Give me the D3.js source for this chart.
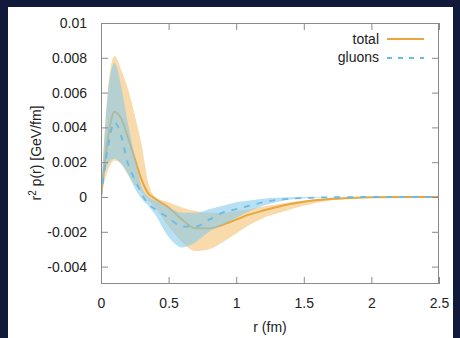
<!DOCTYPE html>
<html>
<head>
<meta charset="utf-8">
<script src="https://cdn.jsdelivr.net/npm/d3@7"></script>
<style>
  html, body { margin: 0; padding: 0; background: #111a3b; }
  svg { display: block; }
  text { font-family: "Liberation Sans", Arial, sans-serif; fill: #222; }
</style>
</head>
<body>
<svg id="chart" width="460" height="338"></svg>
<script>
// radial distance grid (fm)
const r = [0, 0.05, 0.1, 0.15, 0.2, 0.25, 0.3, 0.35, 0.4, 0.5, 0.6, 0.7, 0.8, 0.9, 1.0,
           1.1, 1.2, 1.3, 1.4, 1.5, 1.6, 1.8, 2.0, 2.25, 2.5];

// r^2 p(r) for the total pressure: central value and uncertainty band
const totalMid = [0, 0.0033, 0.0049, 0.0045, 0.0034, 0.0022, 0.0010, 0.0002, -0.0001, -0.0006,
  -0.0013, -0.0018, -0.0018, -0.0016, -0.0013, -0.0010, -0.00078, -0.00058, -0.0004, -0.00027,
  -0.00017, -0.00007, -0.00002, 0, 0];
const totalHi = [0, 0.0060, 0.0081, 0.0073, 0.0062, 0.0047, 0.0030, 0.0008, 0.0000, -0.0003,
  -0.0006, -0.0008, -0.0009, -0.0009, -0.0008, -0.0007, -0.00055, -0.00042, -0.0003, -0.0002,
  -0.00013, -0.00004, 0, 0, 0];
const totalLo = [0, 0.0015, 0.0021, 0.0019, 0.0013, 0.0007, 0.0003, -0.0002, -0.0006, -0.0017,
  -0.0026, -0.0031, -0.0030, -0.0026, -0.0021, -0.0016, -0.0012, -0.00095, -0.00072, -0.0005,
  -0.00033, -0.00012, -0.00003, 0, 0];

// gluon contribution: central value and uncertainty band
const gluonMid = [0, 0.0028, 0.0043, 0.0035, 0.0019, 0.0010, 0.0002, -0.0004, -0.0007, -0.0012,
  -0.0017, -0.0017, -0.0013, -0.0009, -0.0007, -0.0005, -0.0003, -0.00017, -0.0001, -0.00006,
  -0.00003, -0.00001, 0, 0, 0];
const gluonHi = [0, 0.0058, 0.0077, 0.0063, 0.0042, 0.0023, 0.0006, 0.0000, -0.0002, -0.0006,
  -0.0009, -0.0009, -0.0007, -0.0005, -0.0003, -0.0002, -0.0001, -0.00005, -0.00002, 0,
  0, 0, 0, 0, 0];
const gluonLo = [0, 0.0019, 0.0022, 0.0019, 0.0013, 0.0005, -0.0001, -0.0005, -0.0010, -0.0023,
  -0.0029, -0.0026, -0.0020, -0.0016, -0.0012, -0.0008, -0.0005, -0.0003, -0.00015, -0.00008,
  -0.00004, 0, 0, 0, 0];

// axis ticks
const xTicks = [0, 0.5, 1, 1.5, 2, 2.5];
const xTickLabels = ["0", "0.5", "1", "1.5", "2", "2.5"];
const yTicks = [-0.004, -0.002, 0, 0.002, 0.004, 0.006, 0.008, 0.01];
const yTickLabels = ["-0.004", "-0.002", "0", "0.002", "0.004", "0.006", "0.008", "0.01"];

const seriesNames = ["total", "gluons"];

const ORANGE = "#e9a53e", BLUE = "#68bbe6";
const ORANGE_FILL = "#f0b14f", BLUE_FILL = "#84c9ec";

const svg = d3.select("#chart");
svg.append("rect").attr("x", 8).attr("y", 7).attr("width", 445).attr("height", 331).attr("fill", "#fff");

const pLeft = 101, pRight = 439, pTop = 23, pBottom = 284;
const x = d3.scaleLinear().domain([0, 2.5]).range([pLeft, pRight]);
const y = d3.scaleLinear().domain([-0.005, 0.01]).range([pBottom, pTop]);

const defs = svg.append("defs");
defs.append("clipPath").attr("id", "plot").append("rect")
  .attr("x", pLeft).attr("y", pTop).attr("width", pRight - pLeft).attr("height", pBottom - pTop);

const curve = d3.curveMonotoneX;
const band = (lo, hi) => d3.area().curve(curve)
  .x((d, i) => x(r[i])).y0((d, i) => y(lo[i])).y1((d, i) => y(hi[i]))(r);
const line = vals => d3.line().curve(curve).x((d, i) => x(r[i])).y((d, i) => y(vals[i]))(r);

// bands are translucent so the overlap blends; the total line sits under the gluon band
const plot = svg.append("g").attr("clip-path", "url(#plot)");
plot.append("path").attr("d", band(totalLo, totalHi)).attr("fill", ORANGE_FILL).attr("fill-opacity", 0.48);
plot.append("path").attr("d", line(totalMid)).attr("fill", "none").attr("stroke", ORANGE).attr("stroke-width", 2);
plot.append("path").attr("d", band(gluonLo, gluonHi)).attr("fill", BLUE_FILL).attr("fill-opacity", 0.58);
plot.append("path").attr("d", line(gluonMid)).attr("fill", "none").attr("stroke", BLUE)
  .attr("stroke-width", 1.8).attr("stroke-dasharray", "6,7");

// frame with inward ticks on all four sides
const frame = svg.append("g").attr("stroke", "#8a8a8a").attr("stroke-width", 1).attr("fill", "none");
frame.append("rect").attr("x", pLeft + 0.5).attr("y", pTop + 0.5)
  .attr("width", pRight - pLeft - 1).attr("height", pBottom - pTop - 1);

const TL = 7;
const axB = d3.axisBottom(x).tickValues(xTicks).tickSize(-TL).tickFormat((d, i) => xTickLabels[i]).tickPadding(14);
const axT = d3.axisTop(x).tickValues(xTicks).tickSize(-TL).tickFormat("");
const axL = d3.axisLeft(y).tickValues(yTicks).tickSize(-TL).tickFormat((d, i) => yTickLabels[i]).tickPadding(14);
const axR = d3.axisRight(y).tickValues(yTicks).tickSize(-TL).tickFormat("");

function styleAxis(g) {
  g.select(".domain").remove();
  g.selectAll(".tick line").attr("stroke", "#8a8a8a");
  g.selectAll(".tick text").attr("font-size", 14).attr("fill", "#222")
    .style("font-family", "'Liberation Sans', Arial, sans-serif");
}
svg.append("g").attr("transform", `translate(0,${pBottom})`).call(axB).call(styleAxis);
svg.append("g").attr("transform", `translate(0,${pTop})`).call(axT).call(styleAxis);
svg.append("g").attr("transform", `translate(${pLeft},0)`).call(axL).call(styleAxis);
svg.append("g").attr("transform", `translate(${pRight},0)`).call(axR).call(styleAxis);

// axis titles
svg.append("text").attr("x", 270).attr("y", 332).attr("text-anchor", "middle")
  .attr("font-size", 14).text("r (fm)");
const yl = svg.append("text").attr("transform", "translate(41,153) rotate(-90)")
  .attr("text-anchor", "middle").attr("font-size", 14);
yl.append("tspan").text("r");
yl.append("tspan").attr("font-size", 10).attr("dy", -5).text("2");
yl.append("tspan").attr("dy", 5).text(" p(r) [GeV/fm]");

// legend
const legend = svg.append("g");
legend.append("text").attr("x", 379).attr("y", 44).attr("text-anchor", "end").attr("font-size", 14).text(seriesNames[0]);
legend.append("line").attr("x1", 387).attr("x2", 424).attr("y1", 39).attr("y2", 39)
  .attr("stroke", ORANGE).attr("stroke-width", 2);
legend.append("text").attr("x", 379).attr("y", 62).attr("text-anchor", "end").attr("font-size", 14).text(seriesNames[1]);
legend.append("line").attr("x1", 387).attr("x2", 424).attr("y1", 58).attr("y2", 58)
  .attr("stroke", BLUE).attr("stroke-width", 1.8).attr("stroke-dasharray", "5,6");
</script>
</body>
</html>
